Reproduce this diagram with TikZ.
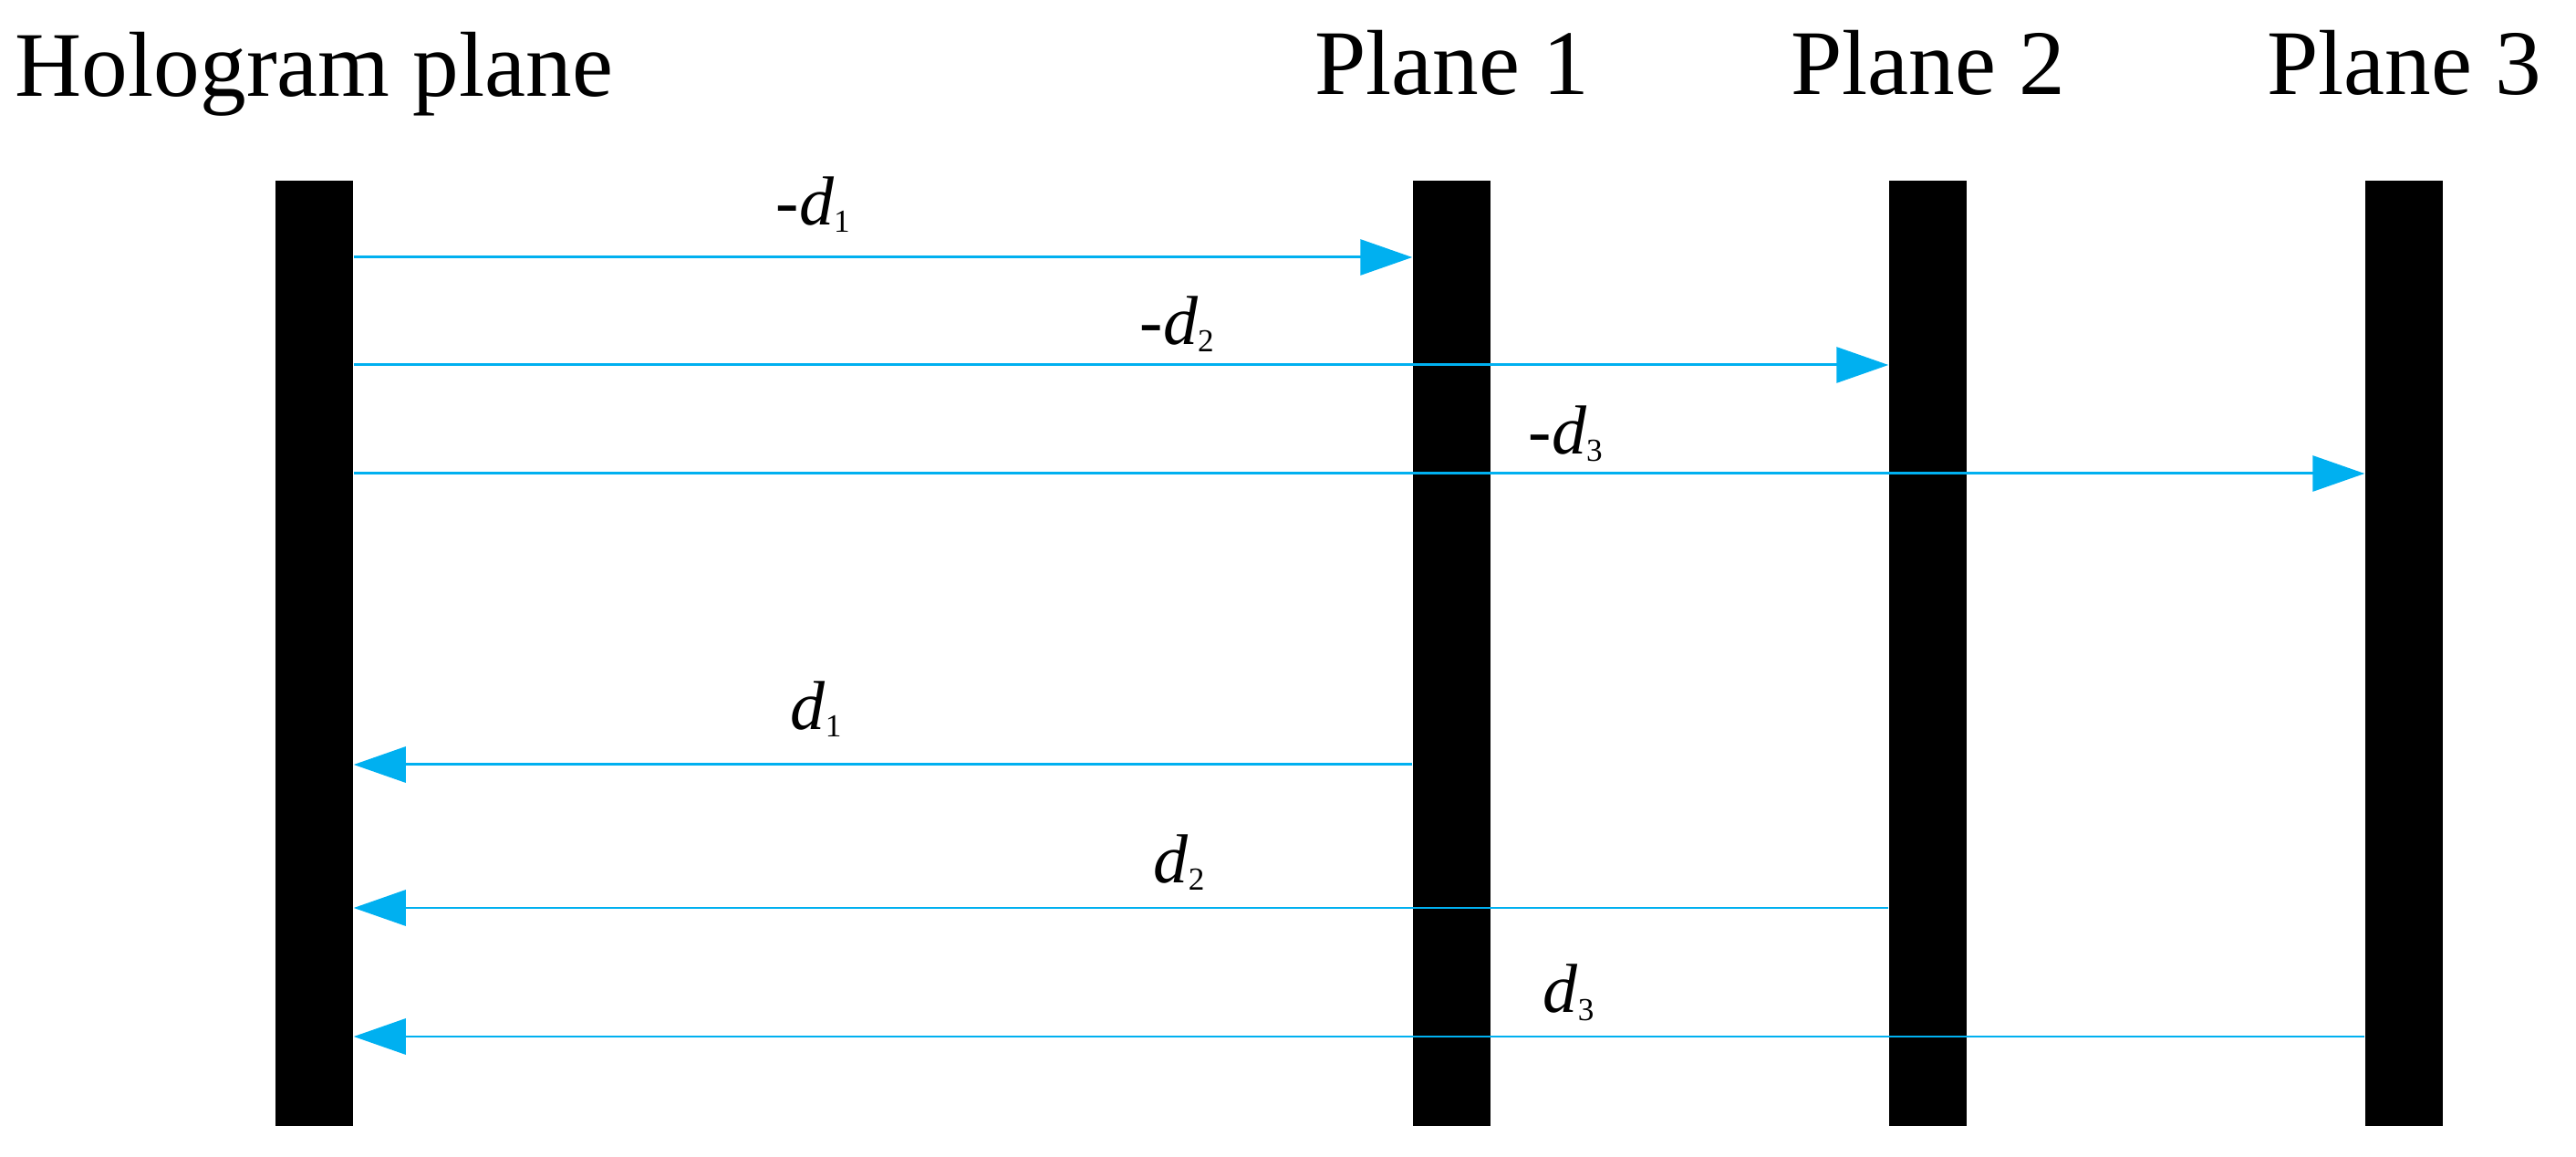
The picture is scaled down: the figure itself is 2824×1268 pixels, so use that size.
\documentclass[tikz,border=0pt]{standalone}
\usepackage{fontspec}
\setmainfont{Liberation Serif}
\usetikzlibrary{arrows.meta}
\definecolor{raycyan}{HTML}{00B0F0}
\newcommand{\dsub}[1]{\textit{d}\raisebox{-0.08cm}{\fontsize{10}{11}\selectfont #1}}

\begin{document}
\begin{tikzpicture}[x=0.01cm,y=-0.01cm]
    \tikzstyle{PlaneStyle}=[rectangle, fill=black, inner sep=0pt, minimum width=0.85cm, minimum height=10.36cm]
    \tikzstyle{TitleStyle}=[anchor=base, inner sep=0pt, font=\fontsize{28.8}{30}\selectfont]
    \tikzstyle{LabelStyle}=[anchor=base west, inner sep=0pt, font=\fontsize{21.6}{24}\selectfont]
    \tikzstyle{RayStyle}=[draw=raycyan, line width=0.85pt, -{Triangle[length=0.57cm,width=0.39cm]}]
    \useasboundingbox (0,0) rectangle (2824,1268);
    % planes
    \node[PlaneStyle] (H)  at (344.5,716) {};
    \node[PlaneStyle] (P1) at (1591.5,716) {};
    \node[PlaneStyle] (P2) at (2113.5,716) {};
    \node[PlaneStyle] (P3) at (2635.5,716) {};
    \node[TitleStyle] (tH)  at (H |- 0,106)  {Hologram plane};
    \node[TitleStyle] (tP1) at (P1 |- 0,104) {Plane 1};
    \node[TitleStyle] (tP2) at (P2 |- 0,104) {Plane 2};
    \node[TitleStyle] (tP3) at (P3 |- 0,104) {Plane 3};
    % backward propagation
    \draw[RayStyle] (H.east |- 0,282) -- (P1.west |- 0,282);
    \draw[RayStyle] (H.east |- 0,400) -- (P2.west |- 0,400);
    \draw[RayStyle] (H.east |- 0,519) -- (P3.west |- 0,519);
    % forward propagation
    \draw[RayStyle] (P1.west |- 0,838) -- (H.east |- 0,838);
    \draw[RayStyle] (P2.west |- 0,995) -- (H.east |- 0,995);
    \draw[RayStyle] (P3.west |- 0,1136) -- (H.east |- 0,1136);
    \node[LabelStyle] (m1) at (850,247)  {-\dsub{1}};
    \node[LabelStyle] (m2) at (1249,378) {-\dsub{2}};
    \node[LabelStyle] (m3) at (1675,498) {-\dsub{3}};
    \node[LabelStyle] (p1) at (866,800)  {\dsub{1}};
    \node[LabelStyle] (p2) at (1264,968) {\dsub{2}};
    \node[LabelStyle] (p3) at (1691,1110) {\dsub{3}};
\end{tikzpicture}
\end{document}
